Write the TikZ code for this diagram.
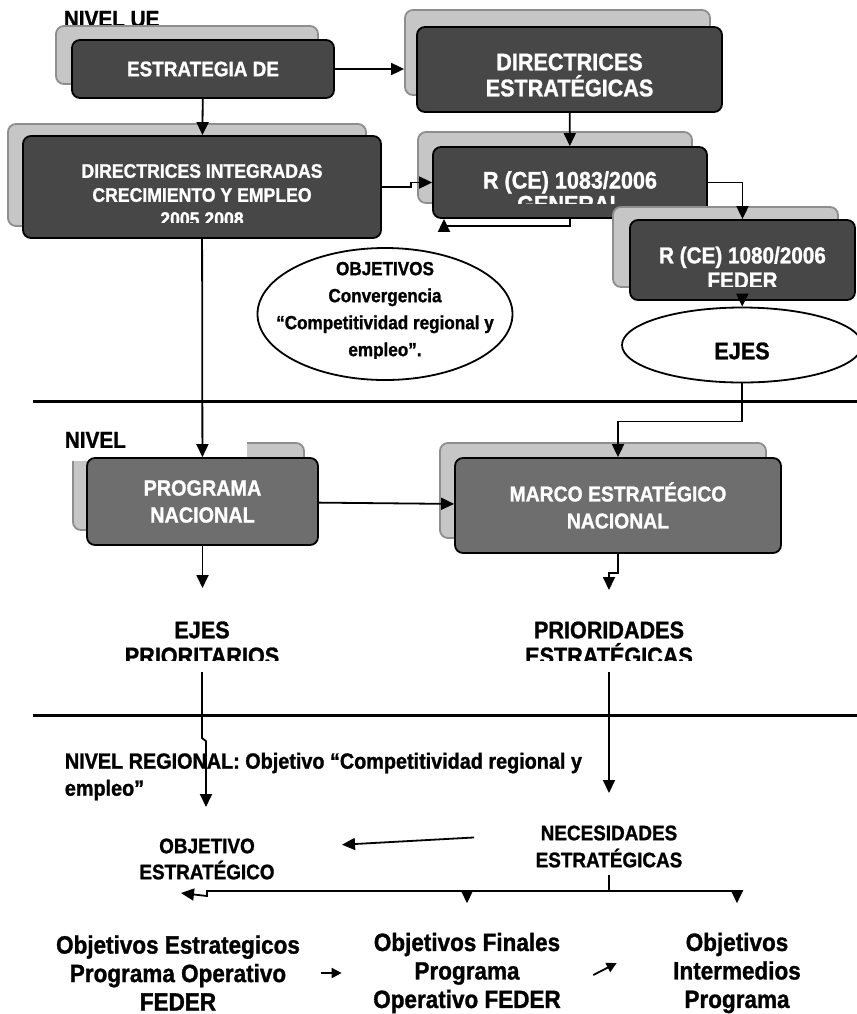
\documentclass[tikz,border=0pt]{standalone}
\usepackage{fontspec}
\setmainfont{Liberation Sans}[FakeStretch=0.9,BoldFeatures={FakeBold=1.2}]
\usetikzlibrary{arrows.meta,shapes.geometric}
\definecolor{boxgray}{HTML}{474747}
\definecolor{midgray}{HTML}{6E6E6E}
\definecolor{shadowgray}{HTML}{C6C6C6}
\definecolor{shadowedge}{HTML}{8E8E8E}
\newcommand{\diafont}[2]{\bfseries\fontsize{#1}{#2}\selectfont}
\tikzset{main node/.style={rectangle,rounded corners=4pt,draw,fill=boxgray,inner sep=0pt,text=white,align=center}}
\tikzset{shadow node/.style={rectangle,rounded corners=4pt,draw=shadowedge,fill=shadowgray,inner sep=0pt}}
\tikzset{inner node/.style={text=white,align=center}}
\tikzset{oval node/.style={ellipse,draw,fill=white,inner sep=0pt}}
\tikzset{plain node/.style={align=center}}
\tikzset{rule line/.style={line width=1.5pt}}

\begin{document}
\begin{tikzpicture}[x=0.5pt,y=-0.5pt,line width=0.9pt,>={Triangle[length=6.5pt,width=6pt]}]
    \clip (0,0) rectangle (857,1014);

    % EU level
    \node[anchor=west,inner sep=0pt,font=\diafont{11.5}{13}] (0) at (63,19) {NIVEL UE};
    \node[shadow node,minimum width=131pt,minimum height=29pt] (1s) at (187,55) {};
    \node[main node,minimum width=131pt,minimum height=29pt,font=\diafont{10.5}{12.5}] (1) at (203,69) {ESTRATEGIA DE};

    \node[shadow node,minimum width=179pt,minimum height=51pt] (2s) at (187,175) {};
    \node[main node,minimum width=179pt,minimum height=51pt] (2) at (202,187) {};
    \begin{scope}
        \clip (23,136) rectangle (381,222);
        \node[inner node,font=\diafont{9.8}{12}] (2t) at (202,195) {DIRECTRICES INTEGRADAS\\CRECIMIENTO Y EMPLEO\\2005 2008};
    \end{scope}

    \node[shadow node,minimum width=152.5pt,minimum height=42.5pt] (3s) at (557.5,52.5) {};
    \node[main node,minimum width=152.5pt,minimum height=42.5pt] (3) at (569.5,69.5) {};
    \begin{scope}
        \clip (417,27) rectangle (722,96);
        \node[inner node,font=\diafont{12}{13}] (3t) at (569.5,75) {DIRECTRICES\\ESTRATÉGICAS};
    \end{scope}

    \node[shadow node,minimum width=137pt,minimum height=35.5pt] (4s) at (555,167.5) {};
    \node[main node,minimum width=137pt,minimum height=35.5pt] (4) at (570,182.5) {};
    \begin{scope}
        \clip (433,147) rectangle (707,203);
        \node[inner node,font=\diafont{12}{12}] (4t) at (570,192) {R (CE) 1083/2006\\GENERAL};
    \end{scope}

    \node[shadow node,minimum width=112.5pt,minimum height=40pt] (5s) at (725.5,247) {};
    \node[main node,minimum width=112.5pt,minimum height=40pt] (5) at (742.5,260) {};
    \begin{scope}
        \clip (630,220) rectangle (857,286);
        \node[inner node,font=\diafont{11.5}{12.5}] (5t) at (742.5,267.5) {R (CE) 1080/2006\\FEDER};
    \end{scope}

    \node[oval node,minimum width=127.5pt,minimum height=66pt] (8) at (385,314) {};
    \begin{scope}
        \clip (258,248) rectangle (513,358);
        \node[plain node,font=\diafont{9.5}{13.5}] (8t) at (385,311) {OBJETIVOS\\Convergencia\\“Competitividad regional y\\empleo”.};
    \end{scope}
    \node[oval node,minimum width=120pt,minimum height=37.5pt] (9) at (742,345) {};
    \node[plain node,font=\diafont{12}{13}] (9t) at (742,351) {EJES};

    \draw[rule line] (33,401) -- (857,401);

    % national level
    \node[shadow node,minimum width=115.5pt,minimum height=43.5pt] (6s) at (188.5,486.5) {};
    \node[anchor=north west,fill=white,minimum height=21pt,text width=89pt,inner xsep=2pt,align=left,font=\diafont{11.5}{13}] (6l) at (60,418) {NIVEL};
    \node[main node,fill=midgray,minimum width=115.5pt,minimum height=43.5pt,font=\diafont{11}{13.5}] (6) at (202.5,501.5) {PROGRAMA\\NACIONAL};

    \node[shadow node,minimum width=163pt,minimum height=47.5pt] (7s) at (603,490.5) {};
    \node[main node,fill=midgray,minimum width=163pt,minimum height=47.5pt,font=\diafont{10.75}{13.5}] (7) at (618,505.5) {MARCO ESTRATÉGICO\\NACIONAL};

    \begin{scope}
        \clip (0,600) rectangle (857,660);
        \node[plain node,font=\diafont{12}{13}] (10) at (202,643) {EJES\\PRIORITARIOS};
        \node[plain node,font=\diafont{12}{13}] (11) at (609,643) {PRIORIDADES\\ESTRATÉGICAS};
    \end{scope}

    \draw[rule line] (33,715) -- (857,715);

    % regional level
    \node[anchor=west,inner sep=0pt,align=left,font=\diafont{11}{13.5}] (17) at (64,776.5) {NIVEL REGIONAL: Objetivo “Competitividad regional y\\empleo”};
    \node[plain node,font=\diafont{10.5}{13}] (12) at (207,859) {OBJETIVO\\ESTRATÉGICO};
    \node[plain node,font=\diafont{10.5}{13.5}] (13) at (609,846.5) {NECESIDADES\\ESTRATÉGICAS};
    \node[plain node,font=\diafont{12.5}{14.25}] (14) at (178,973) {Objetivos Estrategicos\\Programa Operativo\\FEDER};
    \node[plain node,font=\diafont{12.5}{14.25}] (15) at (467,973) {Objetivos Finales\\Programa\\Operativo FEDER};
    \node[plain node,font=\diafont{12.5}{14.25}] (16) at (737,973) {Objetivos\\Intermedios\\Programa};

    \coordinate (6e) at (202.5,588);
    \coordinate (7e) at (609,590);
    \coordinate (12e) at (206,807);
    \coordinate (13e) at (609,793);
    \coordinate (j) at (609,891);

    \draw[->] (1.east) -- (1.east -| 3s.west);
    \draw[->] (1) -- (2);
    \draw[->] (2.east) -- ++(29,0) |- (4.west);
    \draw[->] (3) -- (4);
    \draw[->] (4.east) -| (5.north);
    \draw[->] (4.south) -- ++(0,7) -- ++(-126,0) -- ++(0,-7);
    \draw[->] (5) -- (9);
    \draw[->] (2) -- (6);
    \draw[->] (9.south) -- ++(0,38) -| (7.north);
    \draw[->] (6) -- (7);
    \draw[->] (6) -- (6e);
    \draw[->] (7.south) -- ++(0,19) -| (7e);
    \draw[->] (10.south) -- ++(0,66) -- ++(4,3) -- (12e);
    \draw[->] (11.south) -- (13e);
    \draw[->,shorten <=27pt,shorten >=30pt] ([yshift=6pt]13.west) -- ([yshift=5.5pt]12.east);
    \draw (13.south) -- (j);
    \draw[->,shorten >=11pt] (j) -| (15.north);
    \draw[->,shorten >=11pt] (j) -| (16.north);
    \draw[->] (j) -- (j -| 12.south) -- ++(0,5) -- ++(-26,-3);
    \draw[-{Triangle[length=5pt,width=5pt]},shorten <=7pt,shorten >=12pt] (14.east) -- (15.west);
    \draw[-{Triangle[length=5pt,width=5pt]}] ([shift={(25,2)}]15.east) -- ([shift={(-49,-10)}]16.west);
\end{tikzpicture}
\end{document}
